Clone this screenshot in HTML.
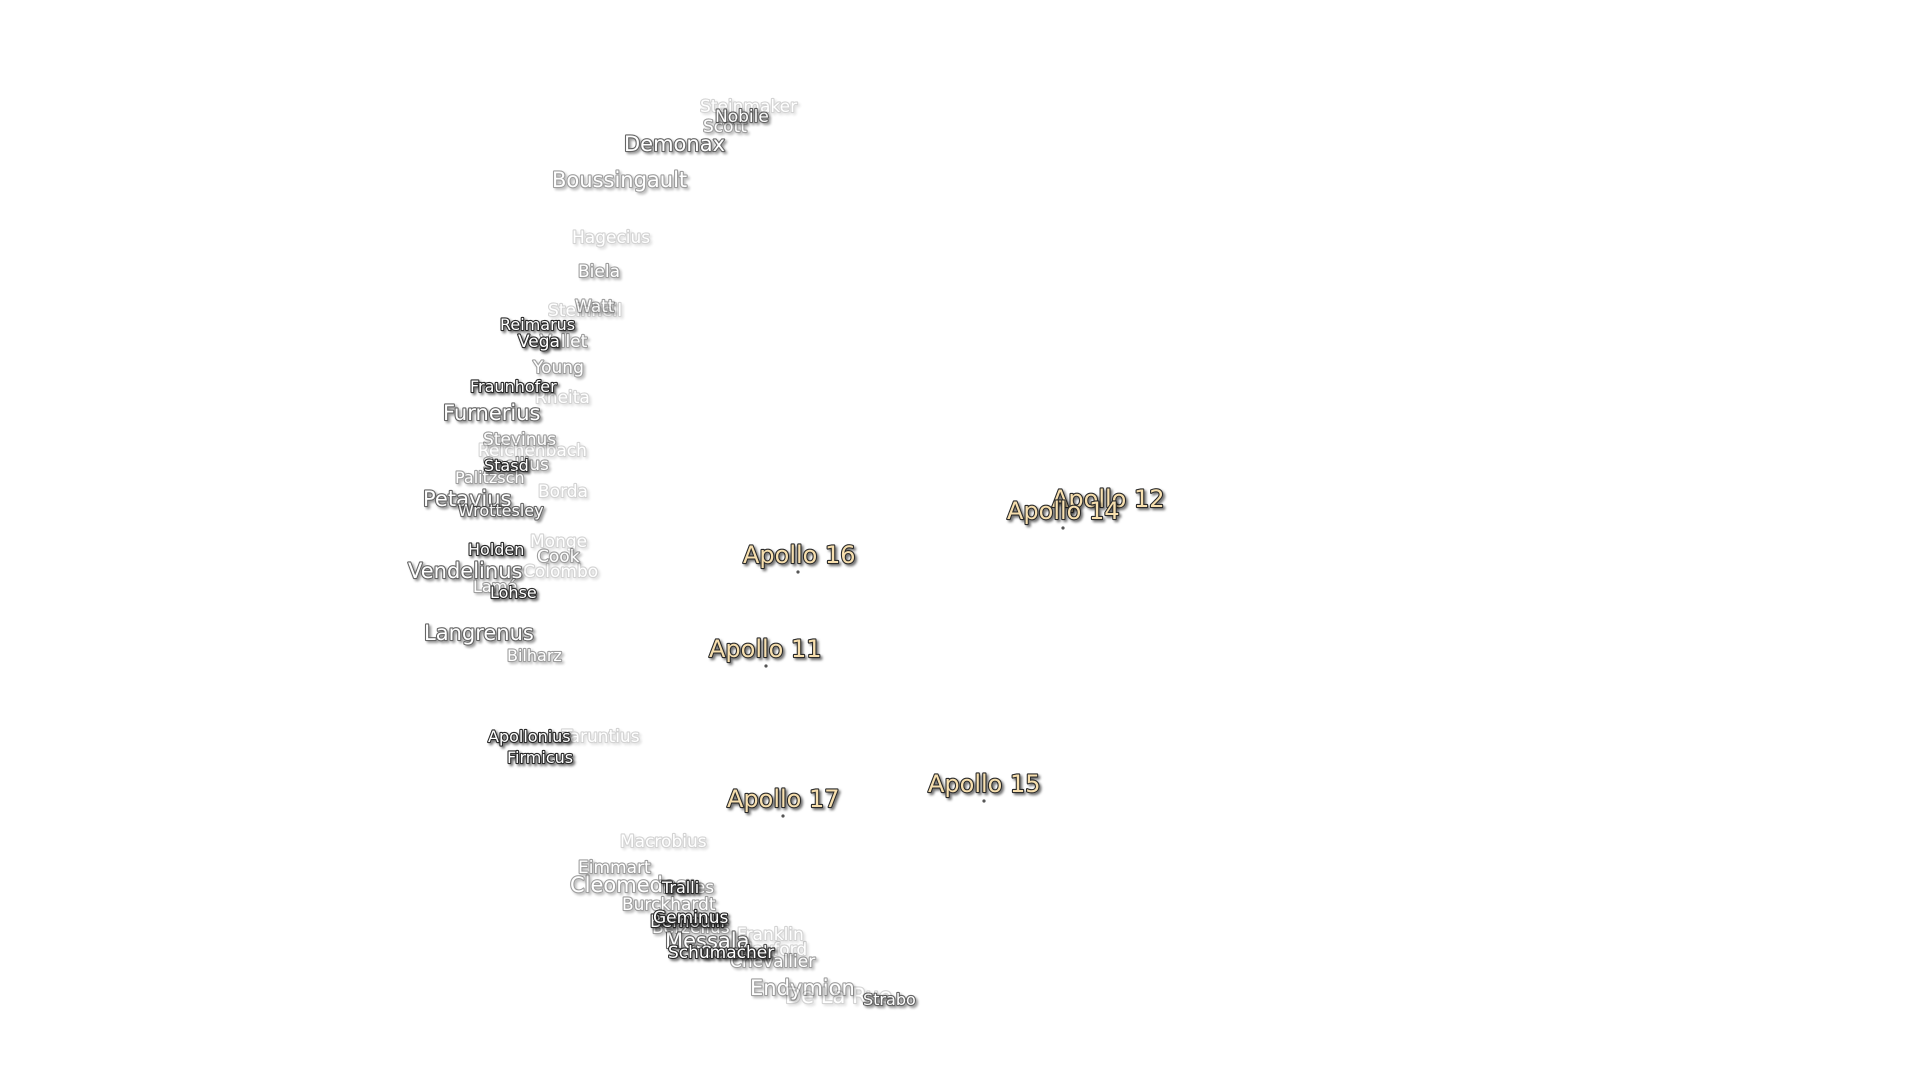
<!DOCTYPE html>
<html><head><meta charset="utf-8"><style>
html,body{margin:0;padding:0;background:#fff;width:1920px;height:1080px;overflow:hidden}
svg{position:absolute;left:0;top:0}
text{font-family:"DejaVu Sans","Liberation Sans",sans-serif;paint-order:stroke;stroke-linejoin:round}
.c{fill:#fff;stroke:#2a2a2a;stroke-width:2.2px;filter:url(#sh)}
.a{fill:#f7dfae;stroke:#2a2a2a;stroke-width:2.2px;font-size:24px;filter:url(#sh)}
.L{font-size:21px}.M{font-size:17px}.S{font-size:16px}
.f1{opacity:1}.f2{opacity:.72}.f3{opacity:.45}.f4{opacity:.2}
</style></head><body>
<svg width="1920" height="1080" viewBox="0 0 1920 1080">
<defs><filter id="sh" x="-10%" y="-30%" width="130%" height="170%"><feDropShadow dx="2" dy="2" stdDeviation="1.2" flood-color="#000" flood-opacity="0.55"/></filter></defs>
<text class="c M f4" x="700" y="112">Steinmaker</text>
<text class="c M f3" x="703" y="132">Scott</text>
<text class="c M f2" x="715" y="122">Nobile</text>
<text class="c L f2" x="624" y="151">Demonax</text>
<text class="c L f3" x="552" y="187">Boussingault</text>
<text class="c M f4" x="572" y="243">Hagecius</text>
<text class="c M f3" x="578" y="277">Biela</text>
<text class="c M f4" x="548" y="316">Steinheil</text>
<text class="c M f3" x="575" y="312">Watt</text>
<text class="c M f3" x="540" y="347">Vallet</text>
<text class="c S f1" x="500" y="330">Reimarus</text>
<text class="c M f1" x="518" y="347">Vega</text>
<text class="c M f3" x="533" y="373">Young</text>
<text class="c M f4" x="535" y="403">Rheita</text>
<text class="c S f1" x="470" y="392">Fraunhofer</text>
<text class="c L f2" x="443" y="420">Furnerius</text>
<text class="c M f3" x="483" y="445">Stevinus</text>
<text class="c M f4" x="478" y="456">Reichenbach</text>
<text class="c M f3" x="483" y="470">Snellius</text>
<text class="c S f1" x="484" y="471">Stasd</text>
<text class="c S f3" x="455" y="483">Palitzsch</text>
<text class="c M f4" x="538" y="497">Borda</text>
<text class="c L f2" x="423" y="506">Petavius</text>
<text class="c S f2" x="458" y="516">Wrottesley</text>
<text class="c M f4" x="530" y="547">Monge</text>
<text class="c S f1" x="468" y="555">Holden</text>
<text class="c M f3" x="537" y="562">Cook</text>
<text class="c M f4" x="523" y="577">Colombo</text>
<text class="c L f2" x="408" y="578">Vendelinus</text>
<text class="c S f3" x="473" y="592">Lamé</text>
<text class="c S f1" x="490" y="598">Lohse</text>
<text class="c L f2" x="424" y="640">Langrenus</text>
<text class="c S f3" x="507" y="661">Bilharz</text>
<text class="c M f4" x="562" y="742">Taruntius</text>
<text class="c S f1" x="488" y="742">Apollonius</text>
<text class="c S f1" x="507" y="763">Firmicus</text>
<text class="c M f4" x="620" y="847">Macrobius</text>
<text class="c M f3" x="578" y="873">Eimmart</text>
<text class="c L f3" x="570" y="892">Cleomedes</text>
<text class="c M f3" x="660" y="893">Tralles</text>
<text class="c S f1" x="662" y="893">Tralli</text>
<text class="c M f3" x="622" y="910">Burckhardt</text>
<text class="c M f3" x="652" y="933">Berzelius</text>
<text class="c M f1" x="650" y="927">Bernoulli</text>
<text class="c M f1" x="653" y="923">Geminus</text>
<text class="c M f4" x="737" y="940">Franklin</text>
<text class="c M f4" x="740" y="955">Hayford</text>
<text class="c L f2" x="665" y="948">Messala</text>
<text class="c M f3" x="730" y="967">Chevallier</text>
<text class="c M f2" x="700" y="958">Oersted</text>
<text class="c M f1" x="668" y="958">Schumacher</text>
<text class="c L f3" x="750" y="995">Endymion</text>
<text class="c L f4" x="785" y="1003">De La Rue</text>
<text class="c S f2" x="863" y="1005">Strabo</text>

<text class="a" x="1052" y="507">Apollo 12</text>
<text class="a" x="1007" y="519">Apollo 14</text>
<text class="a" x="743" y="563">Apollo 16</text>
<text class="a" x="709" y="657">Apollo 11</text>
<text class="a" x="928" y="792">Apollo 15</text>
<text class="a" x="727" y="807">Apollo 17</text>
<g fill="#555">
<circle cx="1063" cy="528" r="1.6"/><circle cx="798" cy="572" r="1.6"/><circle cx="766" cy="666" r="1.6"/>
<circle cx="984" cy="801" r="1.6"/><circle cx="783" cy="816" r="1.6"/>
</g>
</svg>
</body></html>
